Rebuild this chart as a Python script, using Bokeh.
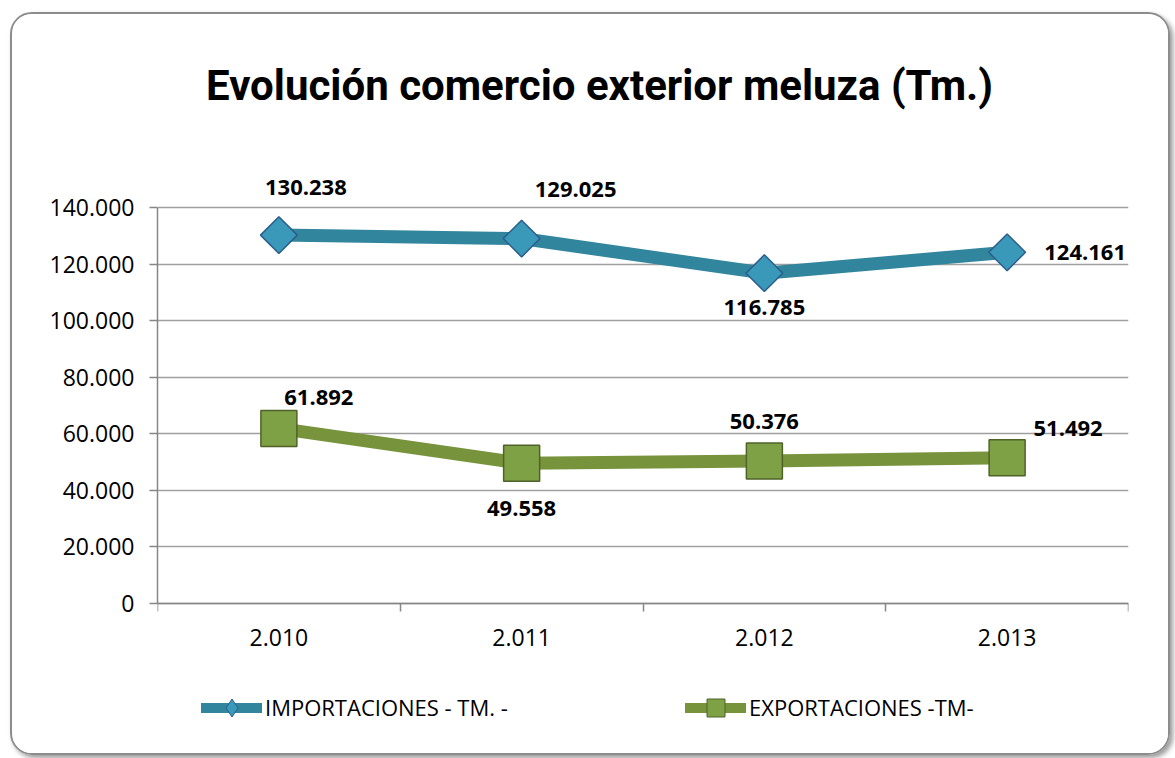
import numpy as np
from bokeh.plotting import figure
from bokeh.models import (Range1d, FixedTicker, CustomJSTickFormatter,
                          ColumnDataSource, LabelSet, Label, Legend, LegendItem)
from bokeh.core.properties import value
from bokeh.embed import file_html
from bokeh.resources import INLINE

# ---------------- data ----------------
years = ["2.010", "2.011", "2.012", "2.013"]
importaciones = [130238, 129025, 116785, 124161]
exportaciones = [61892, 49558, 50376, 51492]
y_ticks = [0, 20000, 40000, 60000, 80000, 100000, 120000, 140000]
series_names = ["IMPORTACIONES - TM. -", "EXPORTACIONES -TM-"]
title_text = "Evolución comercio exterior meluza (Tm.)"

# label offsets (style, pixels: dx right, dy up)
imp_dx = [27, 54, 0, 78]
imp_dy = [48, 49, -34, 0]
exp_dx = [40, 0, 0, 61]
exp_dy = [31, -45, 40, 29]

TEAL = "#31859C"
GREEN = "#77933C"

def fmt(v):
    return f"{v:,}".replace(",", ".")

xs = [i + 0.5 for i in range(len(years))]

# layout (pixels, page coordinates)
W, H = 1160, 743
CANVAS_TOP = 14
FRAME_TOP, ZERO_Y, FRAME_BOTTOM = 40, 603, 750
GRID_H = 396           # pixel height of the 0..140000 grid span
y_top = y_ticks[-1] * (ZERO_Y - FRAME_TOP) / GRID_H
y_bottom = -y_ticks[-1] * (FRAME_BOTTOM - ZERO_Y) / GRID_H

p = figure(width=W, height=H, output_backend="svg", toolbar_location=None,
           x_range=Range1d(0, len(years)), y_range=Range1d(y_bottom, y_top),
           min_border_left=145, min_border_right=44,
           min_border_top=FRAME_TOP - CANVAS_TOP,
           min_border_bottom=CANVAS_TOP + H - FRAME_BOTTOM)
p.outline_line_color = None
p.background_fill_color = "white"
p.border_fill_color = "white"
p.styles = {"margin-left": "10px", "margin-top": "12px",
            "border": "2px solid #8c8c8c", "border-radius": "22px",
            "box-shadow": "3px 3px 5px #9a9a9a", "overflow": "hidden"}

# axes
p.xaxis.fixed_location = 0
p.xaxis.ticker = FixedTicker(ticks=xs, minor_ticks=list(range(len(years) + 1)))
p.xaxis.major_label_overrides = {x: y for x, y in zip(xs, years)}
p.xaxis.major_tick_out = 0
p.xaxis.major_tick_in = 0
p.xaxis.minor_tick_out = 8
p.xaxis.minor_tick_in = 0
p.xaxis.minor_tick_line_color = "#868686"
p.xaxis.minor_tick_line_width = 1.5
p.xaxis.major_label_standoff = 17

p.yaxis.ticker = FixedTicker(ticks=y_ticks)
p.yaxis.bounds = (y_ticks[0], y_ticks[-1])
p.yaxis.formatter = CustomJSTickFormatter(
    code="return Math.round(tick).toString().replace(/\\B(?=(\\d{3})+(?!\\d))/g, '.');")
p.yaxis.major_tick_out = 8
p.yaxis.major_tick_in = 0
p.yaxis.minor_tick_line_color = None
p.yaxis.major_label_standoff = 15

for ax in (p.xaxis, p.yaxis):
    ax.axis_line_color = "#868686"
    ax.axis_line_width = 1.5
    ax.major_tick_line_color = "#868686"
    ax.major_tick_line_width = 1.5
    ax.major_label_text_font = "Open Sans"
    ax.major_label_text_font_size = "23px"
    ax.major_label_text_color = "#000000"

p.xgrid.grid_line_color = None
p.ygrid.grid_line_color = "#a0a0a0"
p.ygrid.grid_line_width = 1.5

# series
src_imp = ColumnDataSource(dict(x=xs, y=importaciones, t=[fmt(v) for v in importaciones],
                                dx=imp_dx, dy=imp_dy))
src_exp = ColumnDataSource(dict(x=xs, y=exportaciones, t=[fmt(v) for v in exportaciones],
                                dx=exp_dx, dy=exp_dy))

p.line("x", "y", source=src_imp, line_color=TEAL, line_width=13, line_join="round")
p.scatter("x", "y", source=src_imp, marker="square", angle=np.pi / 4, size=26,
          fill_color="#3A98B9", line_color="#2B5E8C", line_width=1.5)

p.line("x", "y", source=src_exp, line_color=GREEN, line_width=13, line_join="round")
p.scatter("x", "y", source=src_exp, marker="square", size=36,
          fill_color="#7FA146", line_color="#4F6228", line_width=1.5)

for src in (src_imp, src_exp):
    p.add_layout(LabelSet(x="x", y="y", text="t", source=src, x_offset="dx", y_offset="dy",
                          text_align="center", text_baseline="middle",
                          text_font=value("Open Sans"), text_font_style="bold",
                          text_font_size="22px", text_color="#000000"))

# title
p.add_layout(Label(x=442, y=FRAME_BOTTOM - 102 + 17, x_units="screen", y_units="screen",
                   text=title_text, text_align="center", text_baseline="alphabetic",
                   text_font="Roboto", text_font_style="bold",
                   text_font_size="42px", text_color="#000000"))

# legend renderers (placed outside the visible range, used only for legend glyphs)
lr1 = p.line([xs[0]], [-1e7], line_color=TEAL, line_width=10, line_cap="round")
sr1 = p.scatter([xs[0]], [-1e7], marker="diamond", size=14,
                fill_color="#3A98B9", line_color="#2B5E8C")
lr2 = p.line([xs[0]], [-1e7], line_color=GREEN, line_width=10, line_cap="round")
sr2 = p.scatter([xs[0]], [-1e7], marker="square", size=18,
                fill_color="#7FA146", line_color="#4F6228")

GH = 45
for (lr, sr, name, gx) in ((lr1, sr1, series_names[0], 201), (lr2, sr2, series_names[1], 685)):
    lg = Legend(items=[LegendItem(label=name, renderers=[lr, sr])],
                location=(gx - 157, FRAME_BOTTOM - (707 + GH / 2)),
                glyph_width=61, glyph_height=GH, label_standoff=3,
                padding=0, margin=0,
                border_line_color=None, background_fill_alpha=0,
                label_text_font="Open Sans", label_text_font_size="22px",
                label_text_color="#000000")
    p.add_layout(lg)

open("out.html", "w").write(file_html(p, INLINE))
